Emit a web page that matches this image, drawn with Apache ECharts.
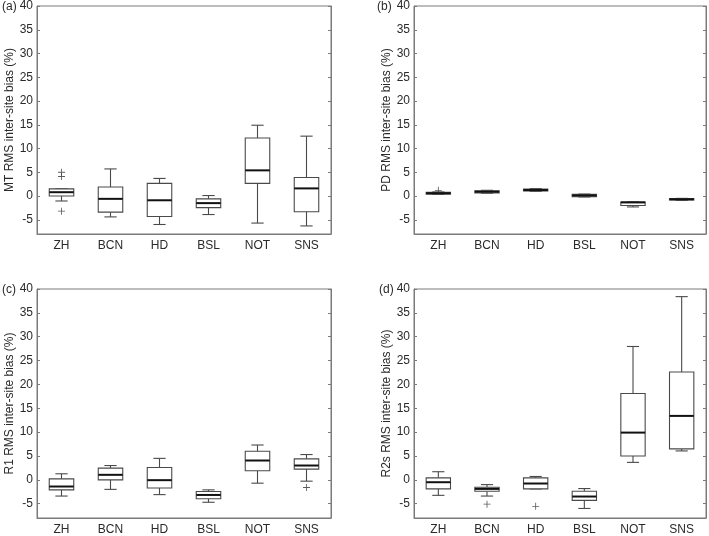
<!DOCTYPE html>
<html>
<head>
<meta charset="utf-8">
<script src="https://cdn.jsdelivr.net/npm/echarts@6/dist/echarts.min.js"></script>
<style>
html,body{margin:0;padding:0;background:#fff;}
#chart{width:709px;height:536px;}
</style>
</head>
<body>
<div id="chart"></div>
<script>
// Categories (sites)
const categories = ['ZH', 'BCN', 'HD', 'BSL', 'NOT', 'SNS'];

// Boxplot stats per site: [lower whisker, Q1, median, Q3, upper whisker]
const mtBoxes = [
  [-1.05, 0.0, 0.8, 1.5, 1.5],
  [-4.4, -3.4, -0.6, 1.9, 5.7],
  [-6.0, -4.3, -0.9, 2.66, 3.7],
  [-3.9, -2.45, -1.5, -0.6, 0.1],
  [-5.7, 2.66, 5.4, 12.2, 14.9],
  [-6.3, -3.3, 1.6, 3.9, 12.6]
];
const mtOutliers = [[0, 5.0], [0, 4.1], [0, -3.2]];

const pdBoxes = [
  [0.35, 0.4, 0.6, 0.8, 0.85],
  [0.6, 0.65, 0.9, 1.1, 1.2],
  [1.0, 1.05, 1.25, 1.45, 1.55],
  [-0.2, -0.15, 0.1, 0.35, 0.4],
  [-2.3, -2.0, -1.35, -1.25, -1.25],
  [-0.9, -0.85, -0.7, -0.55, -0.5]
];
const pdOutliers = [[0, 1.2]];

const r1Boxes = [
  [-3.4, -2.1, -1.4, 0.2, 1.27],
  [-2.0, 0.0, 1.05, 2.45, 3.0],
  [-3.1, -1.7, -0.07, 2.6, 4.5],
  [-4.7, -3.95, -3.17, -2.45, -2.1],
  [-0.7, 1.9, 4.05, 6.0, 7.3],
  [-0.28, 2.25, 3.0, 4.4, 5.3]
];
const r1Outliers = [[5, -1.6]];

const r2sBoxes = [
  [-3.25, -1.9, -0.5, 0.42, 1.7],
  [-3.4, -2.4, -1.9, -1.55, -1.0],
  [-1.9, -1.9, -0.77, 0.42, 0.7],
  [-6.0, -4.3, -3.5, -2.4, -1.83],
  [3.66, 5.0, 9.9, 18.1, 27.95],
  [6.06, 6.48, 13.4, 22.6, 38.4]
];
const r2sOutliers = [[1, -5.1], [2, -5.55]];

// Y axis range and tick step
const yMin = -8, yMax = 40, yStep = 5;

const panels = [
  { label: '(a)', name: 'MT RMS inter-site bias (%)', boxes: mtBoxes, outliers: mtOutliers },
  { label: '(b)', name: 'PD RMS inter-site bias (%)', boxes: pdBoxes, outliers: pdOutliers },
  { label: '(c)', name: 'R1 RMS inter-site bias (%)', boxes: r1Boxes, outliers: r1Outliers },
  { label: '(d)', name: 'R2s RMS inter-site bias (%)', boxes: r2sBoxes, outliers: r2sOutliers }
];

const grids = [
  { left: 37, top: 5, width: 294, height: 229 },
  { left: 414, top: 5, width: 292, height: 229 },
  { left: 37, top: 289, width: 294, height: 230 },
  { left: 414, top: 289, width: 292, height: 230 }
];
const labelPos = [[2, 8], [377, 8], [2, 291], [379, 291]];

const FONT = 'Liberation Sans, Arial, Helvetica, sans-serif';
const FRAME = '#7a7a7a';
const BOXC = '#4a4a4a';
const TXT = '#2a2a2a';

function renderBox(params, api) {
  const x = api.value(0);
  const lo = api.coord([x, api.value(1)]);
  const q1 = api.coord([x, api.value(2)]);
  const md = api.coord([x, api.value(3)]);
  const q3 = api.coord([x, api.value(4)]);
  const hi = api.coord([x, api.value(5)]);
  const cw = api.size([1, 0])[0];
  const bw = cw * 0.5, capw = cw * 0.25;
  const cx = md[0];
  const st = { stroke: BOXC, lineWidth: 1.1, fill: null };
  return {
    type: 'group',
    children: [
      { type: 'line', shape: { x1: cx, y1: q3[1], x2: cx, y2: hi[1] }, style: st },
      { type: 'line', shape: { x1: cx, y1: q1[1], x2: cx, y2: lo[1] }, style: st },
      { type: 'line', shape: { x1: cx - capw / 2, y1: hi[1], x2: cx + capw / 2, y2: hi[1] }, style: st },
      { type: 'line', shape: { x1: cx - capw / 2, y1: lo[1], x2: cx + capw / 2, y2: lo[1] }, style: st },
      { type: 'rect', shape: { x: cx - bw / 2, y: q3[1], width: bw, height: q1[1] - q3[1] }, style: { stroke: BOXC, lineWidth: 1.1, fill: '#fff' } },
      { type: 'line', shape: { x1: cx - bw / 2, y1: md[1], x2: cx + bw / 2, y2: md[1] }, style: { stroke: '#111', lineWidth: 2 } }
    ]
  };
}

const option = {
  animation: false,
  backgroundColor: '#fff',
  textStyle: { fontFamily: FONT },
  grid: grids.map(g => Object.assign({ show: true, borderColor: FRAME, borderWidth: 1, backgroundColor: 'transparent' }, g)),
  xAxis: grids.map((g, i) => ({
    type: 'category',
    gridIndex: i,
    data: categories,
    boundaryGap: true,
    axisLine: { onZero: false, lineStyle: { color: FRAME, width: 1 } },
    axisTick: { inside: true, alignWithLabel: true, length: 3, lineStyle: { color: FRAME } },
    axisLabel: { color: TXT, fontSize: 12, margin: 6, fontFamily: FONT },
    splitLine: { show: false }
  })),
  yAxis: [].concat(
    grids.map((g, i) => ({
      type: 'value',
      gridIndex: i,
      min: yMin, max: yMax,
      minInterval: yStep, maxInterval: yStep, splitNumber: 10,
      name: panels[i].name,
      nameLocation: 'middle',
      nameGap: 21,
      nameTextStyle: { color: TXT, fontSize: 12, fontFamily: FONT },
      axisLine: { show: true, onZero: false, lineStyle: { color: FRAME, width: 1 } },
      axisTick: { show: true, inside: true, length: 3, lineStyle: { color: FRAME } },
      axisLabel: { color: TXT, fontSize: 12, margin: 4, showMinLabel: false, fontFamily: FONT },
      splitLine: { show: false }
    })),
    grids.map((g, i) => ({
      type: 'value',
      gridIndex: i,
      position: 'right',
      min: yMin, max: yMax,
      minInterval: yStep, maxInterval: yStep, splitNumber: 10,
      axisLine: { show: true, onZero: false, lineStyle: { color: FRAME, width: 1 } },
      axisTick: { show: true, inside: true, length: 3, lineStyle: { color: FRAME } },
      axisLabel: { show: false },
      splitLine: { show: false }
    }))
  ),
  series: [].concat(
    panels.map((p, i) => ({
      type: 'custom',
      xAxisIndex: i,
      yAxisIndex: i,
      renderItem: renderBox,
      encode: { x: 0, y: [1, 2, 3, 4, 5] },
      data: p.boxes.map((b, k) => [k].concat(b)),
      z: 2
    })),
    panels.map((p, i) => ({
      type: 'scatter',
      xAxisIndex: i,
      yAxisIndex: i,
      symbol: 'path://M4.4,0H5.6V10H4.4ZM0,4.4H10V5.6H0Z',
      symbolSize: 7,
      itemStyle: { color: '#333' },
      data: p.outliers,
      z: 3
    }))
  ),
  graphic: panels.map((p, i) => ({
    type: 'text',
    left: labelPos[i][0],
    top: labelPos[i][1] - 7,
    style: { text: p.label, font: '12px ' + FONT, fill: TXT }
  }))
};

const chart = echarts.init(document.getElementById('chart'), null, { renderer: 'canvas' });
chart.setOption(option);
</script>
</body>
</html>
